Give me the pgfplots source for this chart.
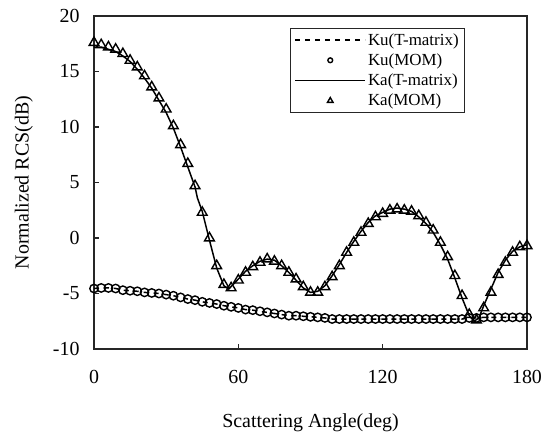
\documentclass[border=0pt]{standalone}
\usepackage{fontspec}
\setmainfont{Liberation Serif}
\usepackage{pgfplots}
\pgfplotsset{compat=1.18}
\usepackage{pgfplotstable}

% Ka, MOM points (every 3 deg)
\pgfplotstableread{
ang rcs
0 17.6
3 17.4
6 17.2
9 17.0
12 16.6
15 16.0
18 15.4
21 14.6
24 13.6
27 12.6
30 11.6
33 10.1
36 8.4
39 6.7
42 4.7
45 2.3
48 0.0
51 -2.5
54 -4.2
57 -4.5
60 -3.8
63 -3.1
66 -2.6
69 -2.2
72 -1.9
75 -2.1
78 -2.5
81 -3.1
84 -3.7
87 -4.4
90 -4.9
93 -4.9
96 -4.4
99 -3.5
102 -2.5
105 -1.3
108 -0.4
111 0.5
114 1.3
117 1.9
120 2.2
123 2.5
126 2.6
129 2.5
132 2.4
135 2.0
138 1.4
141 0.7
144 -0.4
147 -1.7
150 -3.4
153 -5.2
156 -6.9
159 -7.4
162 -6.3
165 -4.9
168 -3.3
171 -2.2
174 -1.3
177 -0.8
180 -0.7
}\kamom

% Ka, T-matrix curve
\pgfplotstableread{
ang rcs
0 17.2
3 17.2
6 17.0
9 16.8
12 16.4
15 15.9
18 15.2
21 14.4
24 13.5
27 12.4
30 11.3
33 9.9
36 8.2
39 6.4
42 4.6
43 3.6
45 2.4
48 -0.2
51 -2.7
54 -4.3
56 -4.6
60 -3.7
63 -3.0
66 -2.5
69 -2.1
72 -1.9
75 -2.0
78 -2.5
81 -3.1
84 -3.8
87 -4.5
90 -4.9
93 -4.8
96 -4.3
99 -3.4
102 -2.4
105 -1.3
108 -0.3
111 0.6
114 1.4
117 2.0
120 2.3
123 2.6
126 2.7
129 2.6
132 2.4
135 1.9
138 1.3
141 0.5
144 -0.6
147 -1.9
150 -3.6
153 -5.4
156 -7.0
158 -7.5
160 -7.2
162 -6.1
165 -4.6
168 -3.1
171 -2.0
174 -1.2
177 -0.8
180 -0.6
}\katm

% Ku, MOM points (every 3 deg)
\pgfplotstableread{
ang rcs
0 -4.55
3 -4.5
6 -4.5
9 -4.55
12 -4.7
15 -4.75
18 -4.8
21 -4.9
24 -4.95
27 -5.0
30 -5.1
33 -5.2
36 -5.35
39 -5.5
42 -5.6
45 -5.75
48 -5.85
51 -5.95
54 -6.1
57 -6.2
60 -6.3
63 -6.45
66 -6.5
69 -6.6
72 -6.7
75 -6.8
78 -6.9
81 -7.0
84 -7.0
87 -7.05
90 -7.1
93 -7.15
96 -7.2
99 -7.3
102 -7.3
105 -7.3
108 -7.3
111 -7.3
114 -7.3
117 -7.3
120 -7.3
123 -7.3
126 -7.3
129 -7.3
132 -7.3
135 -7.3
138 -7.3
141 -7.3
144 -7.3
147 -7.3
150 -7.3
153 -7.3
156 -7.2
159 -7.2
162 -7.15
165 -7.15
168 -7.15
171 -7.15
174 -7.15
177 -7.15
180 -7.15
}\kumom

\begin{document}
\begin{tikzpicture}
\begin{axis}[
    scale only axis,
    width=433bp, height=333bp,
    xmin=0, xmax=180, ymin=-10, ymax=20,
    xtick={0,60,120,180},
    ytick={-10,-5,...,20},
    tick align=inside,
    xtick pos=bottom, ytick pos=left,
    major tick length=5bp,
    axis line style={line width=1.2bp, black!85},
    tick style={line width=1.1bp, black!85},
    /pgf/number format/assume math mode=true,
    tick label style={font=\fontsize{20}{23}\selectfont},
    xticklabel style={yshift=-18bp},
    yticklabel style={xshift=-11bp},
    every axis y label/.style={at={(axis description cs:-0.162,0.5)}, anchor=center, rotate=90},
    every axis x label/.style={at={(axis description cs:0.5,-0.222)}, anchor=center},
    label style={font=\fontsize{20}{23}\selectfont},
    xlabel={Scattering Angle(deg)},
    ylabel={Normalized RCS(dB)},
    legend style={at={(axis description cs:0.857,0.964)}, anchor=north east,
        font=\fontsize{17}{20}\selectfont, draw=black!85, line width=0.9bp,
        row sep=3bp, inner xsep=4bp, inner ysep=3bp},
    legend cell align=left,
    legend image code/.code={
        \draw[mark repeat=2, mark phase=2, #1] plot coordinates {(0bp,0bp) (35bp,0bp) (70bp,0bp)};},
]
\addplot[black, line width=1.5bp, dash pattern=on 5bp off 5bp, no marks] table[x=ang, y=rcs] {\kumom};
\addlegendentry{Ku(T-matrix)}
\addplot[black, only marks, mark=o, mark size=4.2bp, mark options={line width=1.4bp},
    legend image post style={mark size=2.4bp}] table[x=ang, y=rcs] {\kumom};
\addlegendentry{Ku(MOM)}
\addplot[black, line width=1.5bp, no marks] table[x=ang, y=rcs] {\katm};
\addlegendentry{Ka(T-matrix)}
\addplot[black, only marks, mark=triangle, mark size=5.6bp, mark options={line width=1.4bp},
    legend image post style={mark size=3.2bp}] table[x=ang, y=rcs] {\kamom};
\addlegendentry{Ka(MOM)}
\end{axis}
\pgfresetboundingbox
\useasboundingbox (current axis.south west) ++(-94bp,-87bp) rectangle ++(544bp,436bp);
\end{tikzpicture}
\end{document}
